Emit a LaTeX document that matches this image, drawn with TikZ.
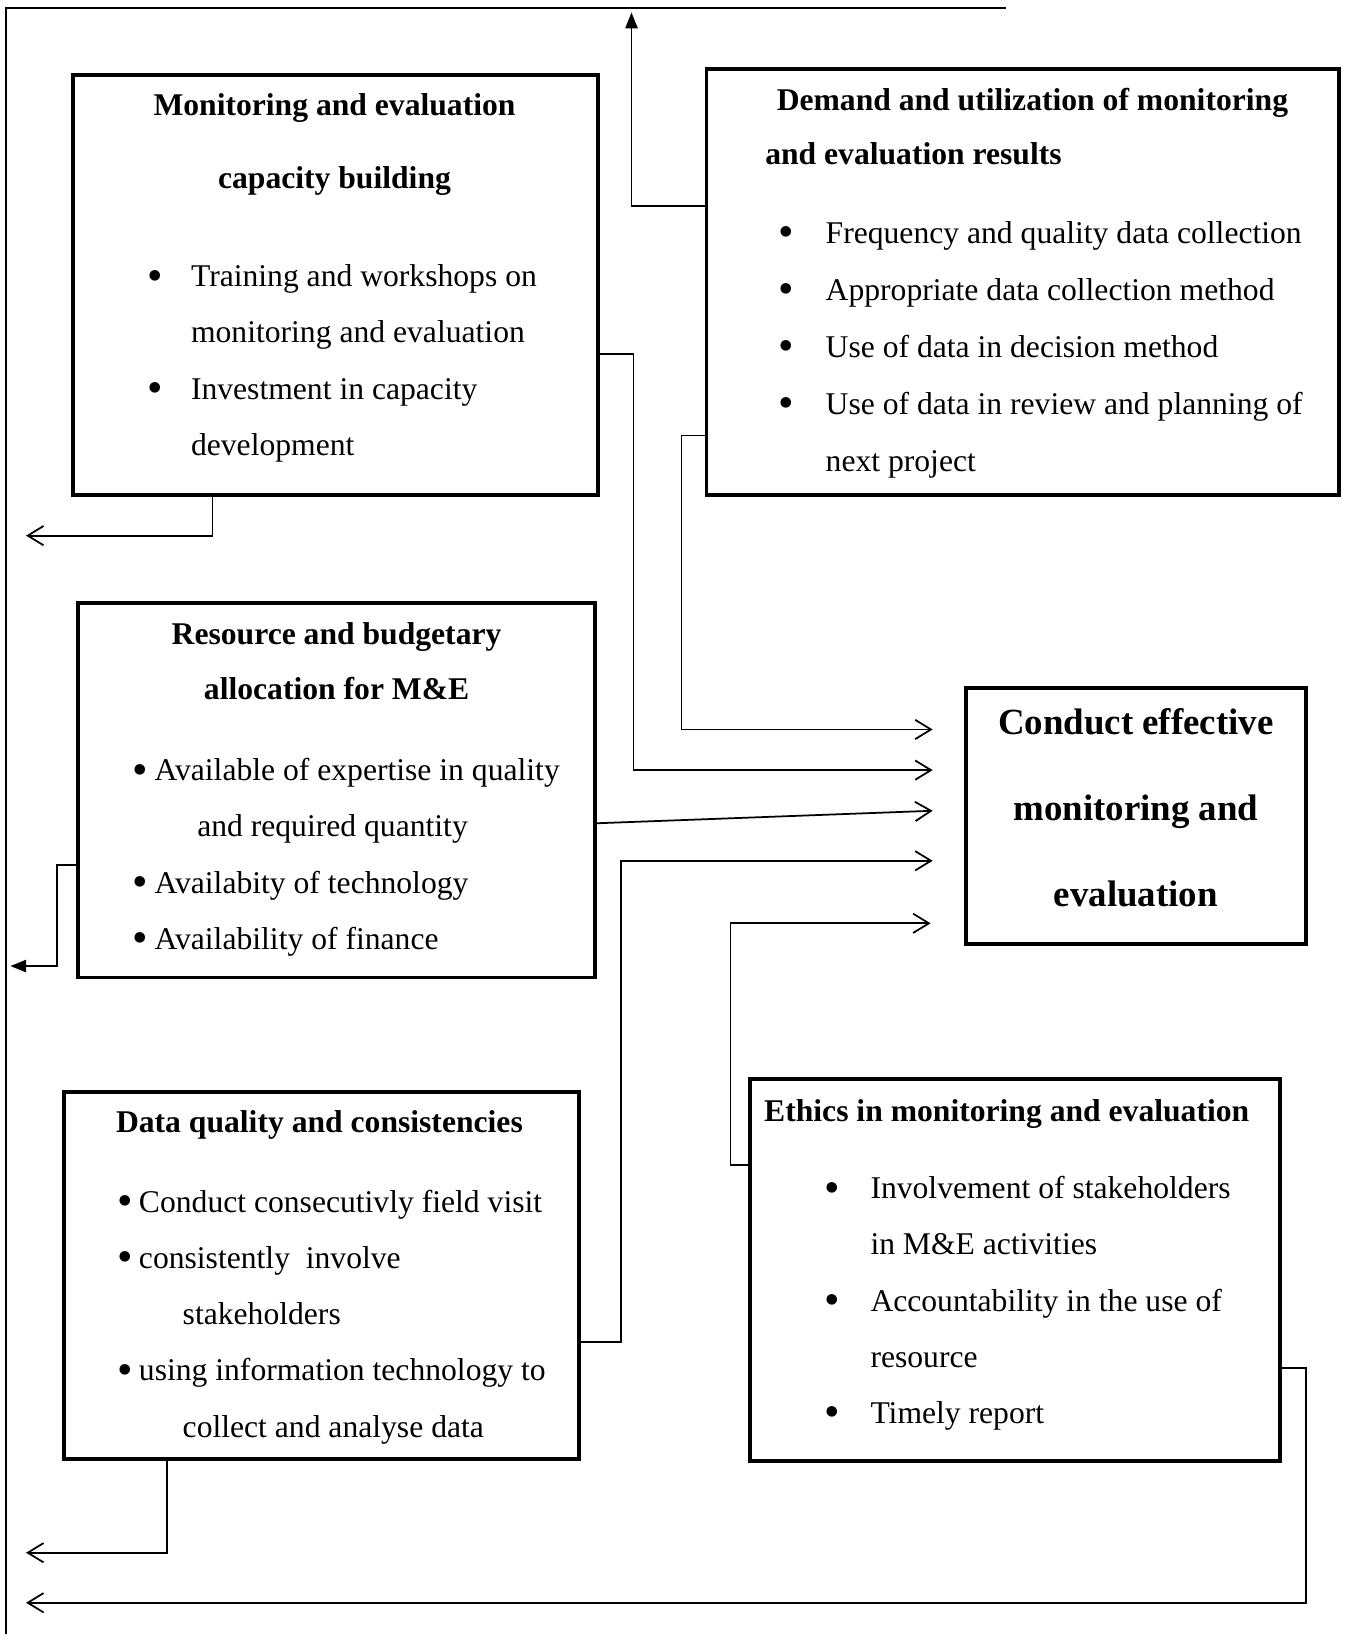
\documentclass[tikz,border=0pt]{standalone}
\usepackage{fontspec}
\setmainfont{Liberation Serif}
\usetikzlibrary{arrows.meta,fit}

\tikzset{
  box/.style={draw, line width=2.2pt, inner sep=0pt},
  conn/.style={line width=1pt},
  barb/.style={-{Straight Barb[length=9pt,width=11pt]}},
  solidtip/.style={-{Triangle[length=9pt,width=7pt]}},
  body/.style={inner sep=0pt, anchor=base west, align=left, font=\fontsize{18}{32}\selectfont},
  head/.style={inner sep=0pt, font=\fontsize{18}{31}\selectfont\bfseries},
}
\newcommand{\bulat}[1]{\makebox[#1][l]{\raisebox{-0.11em}{\scalebox{1.4}{\textbullet}}}}

\begin{document}
\begin{tikzpicture}[x=0.020838cm, y=-0.020838cm]
            \useasboundingbox (0,0) rectangle (1290,1568);
            % boxes
            \node[box, fit={(70,72) (574,475)}] (cap) {};
            \node[box, fit={(678,66) (1285,475)}] (dem) {};
            \node[box, fit={(75,579) (571,938)}] (res) {};
            \node[box, fit={(61,1048) (556,1400)}] (dq) {};
            \node[box, fit={(720,1035) (1228,1402)}] (eth) {};
            \node[box, fit={(927,660) (1253,906)}] (cme) {};

            % titles (a multi-line node sits on its last baseline)
            \node[head, anchor=base, align=center, font=\fontsize{18}{41.4}\selectfont\bfseries] (capttl) at (321,181)
                {Monitoring and evaluation\\capacity building};
            \node[head, anchor=base west, align=left] (demttl) at (734,158)
                {\hspace*{0.23cm}Demand and utilization of monitoring\\and evaluation results};
            \node[head, anchor=base, align=center] (resttl) at (323,671)
                {Resource and budgetary\\allocation for M\&E};
            \node[head, anchor=base west] (dqttl) at (111,1087) {Data quality and consistencies};
            \node[head, anchor=base west] (ethttl) at (733,1076) {Ethics in monitoring and evaluation};
            \node[head, anchor=base, align=center, font=\fontsize{21}{49}\selectfont\bfseries] (cmettl) at (1090,870)
                {Conduct effective\\monitoring and\\evaluation};

            % bullet lists
            \node[body] (captxt) at (141,437)
                {\bulat{0.875cm}Training and workshops on\\
                 \hspace*{0.875cm}monitoring and evaluation\\
                 \bulat{0.875cm}Investment in capacity\\
                 \hspace*{0.875cm}development};
            \node[body, font=\fontsize{18}{32.4}\selectfont] (demtxt) at (747,452)
                {\bulat{0.938cm}Frequency and quality data collection\\
                 \bulat{0.938cm}Appropriate data collection method\\
                 \bulat{0.938cm}Use of data in decision method\\
                 \bulat{0.938cm}Use of data in review and planning of\\
                 \hspace*{0.938cm}next project};
            \node[body] (restxt) at (127,911)
                {\bulat{0.438cm}Available of expertise in quality\\
                 \hspace*{1.292cm}and required quantity\\
                 \bulat{0.438cm}Availabity of technology\\
                 \bulat{0.438cm}Availability of finance};
            \node[body] (dqtxt) at (112,1379)
                {\bulat{0.438cm}Conduct consecutivly field visit\\
                 \bulat{0.438cm}consistently\ \ involve\\
                 \hspace*{1.313cm}stakeholders\\
                 \bulat{0.438cm}using information technology to\\
                 \hspace*{1.313cm}collect and analyse data};
            \node[body] (ethtxt) at (791,1366)
                {\bulat{0.917cm}Involvement of stakeholders\\
                 \hspace*{0.917cm}in M\&E activities\\
                 \bulat{0.917cm}Accountability in the use of\\
                 \hspace*{0.917cm}resource\\
                 \bulat{0.917cm}Timely report};

            % arrow ends
            \coordinate (toptip) at (606,12);
            \coordinate (in1) at (895,700);
            \coordinate (in2) at (895,739);
            \coordinate (in3) at (895,778);
            \coordinate (in4) at (895,826);
            \coordinate (in5) at (893,886);
            \coordinate (out1) at (25,514);
            \coordinate (out2) at (10,927);
            \coordinate (out3) at (25,1490);
            \coordinate (out4) at (25,1538);

            % connectors
            \draw[conn] (965,8) -- (6,8) -- (6,1568);
            \draw[conn, solidtip] (dem.west |- 0,198) -| (toptip);
            \draw[conn, barb] (cap.south -| 204,0) |- (out1);
            \draw[conn, barb] (cap.east |- 0,340) -- (608,340) |- (in2);
            \draw[conn, barb] (dem.west |- 0,418) -- (654,418) |- (in1);
            \draw[conn, barb] (res.east |- 0,790) -- (in3);
            \draw[conn, barb] (dq.east |- 0,1288) -- (596,1288) |- (in4);
            \draw[conn, barb] (eth.west |- 0,1118) -- (701,1118) |- (in5);
            \draw[conn, solidtip] (res.west |- 0,830) -- (55,830) |- (out2);
            \draw[conn, barb] (dq.south -| 160,0) |- (out3);
            \draw[conn, barb] (eth.east |- 0,1313) -- (1253,1313) |- (out4);
\end{tikzpicture}
\end{document}
